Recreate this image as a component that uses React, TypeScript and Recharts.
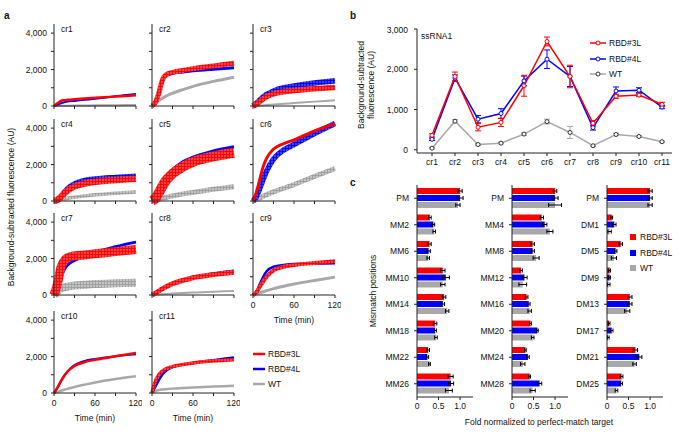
import React from "react";
import { LineChart, Line, XAxis, YAxis, BarChart, Bar, ErrorBar } from "recharts";

const FONT = '"Liberation Sans", Arial, sans-serif';
const RED = "#ff0000";
const BLUE = "#0000ff";
const GRAY = "#a8a8a8";
const INK = "#111";

// panel a: kinetics, minutes
const times = [0, 5, 10, 15, 20, 30, 45, 60, 90, 120];

const cr1 = {
  rbd3: [0, 150, 280, 320, 340, 370, 410, 450, 520, 590],
  rbd4: [0, 60, 150, 210, 240, 280, 340, 400, 530, 660],
  wt: [0, 5, 10, 15, 20, 25, 30, 35, 45, 55],
};
const cr2 = {
  rbd3: [0, 200, 700, 1400, 1700, 1850, 1950, 2050, 2200, 2350],
  rbd4: [0, 180, 650, 1350, 1650, 1800, 1870, 1930, 2020, 2100],
  wt: [0, 150, 300, 420, 530, 700, 900, 1080, 1350, 1580],
};
const cr3 = {
  rbd3: [0, 100, 250, 400, 520, 670, 780, 850, 950, 1020],
  rbd4: [0, 150, 330, 500, 640, 820, 1000, 1100, 1260, 1380],
  wt: [0, 10, 25, 40, 55, 80, 120, 160, 240, 320],
};
const cr4 = {
  rbd3: [0, 60, 220, 420, 580, 800, 960, 1050, 1150, 1220],
  rbd4: [0, 80, 300, 550, 750, 1000, 1180, 1260, 1350, 1420],
  wt: [0, 30, 70, 110, 150, 210, 280, 340, 430, 500],
};
const cr5 = {
  rbd3: [0, 150, 450, 800, 1100, 1500, 1880, 2150, 2450, 2650],
  rbd4: [0, 120, 420, 800, 1150, 1700, 2150, 2400, 2750, 2980],
  wt: [0, 40, 90, 140, 190, 280, 390, 470, 640, 780],
};
const cr6 = {
  rbd3: [0, 500, 1200, 1900, 2350, 2850, 3150, 3350, 3850, 4250],
  rbd4: [0, 250, 700, 1200, 1650, 2300, 2800, 3100, 3700, 4250],
  wt: [0, 80, 170, 260, 350, 500, 700, 900, 1350, 1780],
};
const cr7 = {
  rbd3: [0, 600, 1500, 1880, 2050, 2150, 2200, 2260, 2380, 2500],
  rbd4: [0, 300, 950, 1400, 1650, 1900, 2150, 2350, 2650, 2900],
  wt: [0, 200, 350, 420, 460, 520, 560, 600, 640, 670],
};
const cr8 = {
  rbd3: [0, 100, 220, 340, 440, 620, 800, 950, 1120, 1250],
  rbd4: [0, 110, 240, 370, 480, 660, 840, 990, 1180, 1330],
  wt: [0, 15, 30, 45, 60, 80, 110, 140, 180, 220],
};
const cr9 = {
  rbd3: [0, 150, 450, 750, 1000, 1350, 1550, 1650, 1760, 1850],
  rbd4: [0, 200, 600, 1000, 1300, 1550, 1650, 1700, 1720, 1740],
  wt: [0, 60, 120, 180, 240, 350, 480, 600, 800, 980],
};
const cr10 = {
  rbd3: [0, 300, 650, 950, 1180, 1480, 1700, 1820, 2020, 2200],
  rbd4: [0, 280, 620, 930, 1200, 1530, 1760, 1870, 2020, 2130],
  wt: [0, 60, 120, 180, 230, 330, 460, 580, 770, 920],
};
const cr11 = {
  rbd3: [0, 650, 1000, 1200, 1320, 1450, 1560, 1650, 1760, 1830],
  rbd4: [0, 350, 700, 1000, 1200, 1420, 1560, 1650, 1800, 1950],
  wt: [0, 100, 160, 190, 210, 240, 270, 300, 350, 400],
};

// panel b: endpoint signal
const crRNAs = ["cr1", "cr2", "cr3", "cr4", "cr5", "cr6", "cr7", "cr8", "cr9", "cr10", "cr11"];
const endRbd3 = [360, 1820, 560, 680, 1590, 2690, 1820, 660, 1330, 1360, 1130];
const endRbd3Err = [40, 110, 90, 100, 260, 110, 280, 70, 50, 40, 50];
const endRbd4 = [260, 1780, 760, 900, 1710, 2250, 1820, 550, 1460, 1480, 1060];
const endRbd4Err = [30, 80, 90, 120, 120, 230, 250, 60, 100, 60, 40];
const endWt = [40, 710, 130, 165, 390, 700, 430, 100, 380, 330, 200];
const endWtErr = [20, 40, 20, 20, 30, 60, 150, 20, 30, 20, 20];

// panel c: fold vs perfect match
const mmA = ["PM", "MM2", "MM6", "MM10", "MM14", "MM18", "MM22", "MM26"];
const mmARbd3 = [1.0, 0.3, 0.29, 0.6, 0.63, 0.42, 0.26, 0.78];
const mmARbd4 = [1.0, 0.38, 0.27, 0.67, 0.6, 0.42, 0.24, 0.79];
const mmAWt = [0.95, 0.4, 0.26, 0.6, 0.7, 0.44, 0.29, 0.74];
const mmARbd3Err = [0.05, 0.03, 0.04, 0.05, 0.04, 0.04, 0.03, 0.06];
const mmARbd4Err = [0.07, 0.03, 0.04, 0.08, 0.04, 0.03, 0.03, 0.06];
const mmAWtErr = [0.05, 0.03, 0.03, 0.05, 0.04, 0.03, 0.02, 0.08];

const mmB = ["PM", "MM4", "MM8", "MM12", "MM16", "MM20", "MM24", "MM28"];
const mmBRbd3 = [1.0, 0.69, 0.48, 0.21, 0.34, 0.43, 0.31, 0.41];
const mmBRbd4 = [1.0, 0.76, 0.48, 0.29, 0.39, 0.59, 0.37, 0.64];
const mmBWt = [1.0, 0.88, 0.56, 0.25, 0.41, 0.48, 0.25, 0.48];
const mmBRbd3Err = [0.04, 0.04, 0.04, 0.03, 0.03, 0.02, 0.02, 0.02];
const mmBRbd4Err = [0.07, 0.05, 0.04, 0.06, 0.03, 0.02, 0.03, 0.05];
const mmBWtErr = [0.15, 0.07, 0.07, 0.09, 0.04, 0.03, 0.05, 0.06];

const dm = ["PM", "DM1", "DM5", "DM9", "DM13", "DM17", "DM21", "DM25"];
const dmRbd3 = [1.0, 0.11, 0.32, 0.06, 0.53, 0.05, 0.66, 0.34];
const dmRbd4 = [1.0, 0.17, 0.2, 0.06, 0.53, 0.11, 0.75, 0.33];
const dmWt = [1.0, 0.06, 0.16, 0.04, 0.47, 0.03, 0.64, 0.22];
const dmRbd3Err = [0.05, 0.02, 0.04, 0.02, 0.05, 0.02, 0.05, 0.03];
const dmRbd4Err = [0.05, 0.04, 0.03, 0.02, 0.05, 0.03, 0.06, 0.03];
const dmWtErr = [0.05, 0.04, 0.06, 0.03, 0.06, 0.02, 0.04, 0.03];

// layout of the kinetic grid (plot-area left/bottom in px)
const colX = [54, 152, 253];
const rowBottom = [106, 201, 295, 393];
const PW = 82;
const PH = 82;

const kinetic = [
  { name: "cr1", curves: cr1, col: 0, row: 0, w: [2.5, 2, 2] },
  { name: "cr2", curves: cr2, col: 1, row: 0, w: [5, 3, 3] },
  { name: "cr3", curves: cr3, col: 2, row: 0, w: [5.5, 5.5, 2] },
  { name: "cr4", curves: cr4, col: 0, row: 1, w: [6.5, 3.5, 3.5] },
  { name: "cr5", curves: cr5, col: 1, row: 1, w: [10, 3, 5] },
  { name: "cr6", curves: cr6, col: 2, row: 1, w: [3, 5.5, 5] },
  { name: "cr7", curves: cr7, col: 0, row: 2, w: [9, 3, 8] },
  { name: "cr8", curves: cr8, col: 1, row: 2, w: [5, 2.5, 2] },
  { name: "cr9", curves: cr9, col: 2, row: 2, w: [4, 2.5, 3], xLab: true },
  { name: "cr10", curves: cr10, col: 0, row: 3, w: [2.5, 2, 2.5], xLab: true },
  { name: "cr11", curves: cr11, col: 1, row: 3, w: [3.5, 2.5, 2.5], xLab: true },
];

const tickStyle = { fontSize: 8.5, fill: INK, fontFamily: FONT };
const axisLine = { stroke: "#222", strokeWidth: 1 };

// wide replicate bands get the open-square texture of the original
const band = (w, solid, grid) => (w >= 3.5 ? `url(#${grid})` : solid);

function Kinetic({ p }) {
  const rows = times.map((t, i) => ({
    t,
    rbd3: p.curves.rbd3[i],
    rbd4: p.curves.rbd4[i],
    wt: p.curves.wt[i],
  }));
  const left = colX[p.col];
  const top = rowBottom[p.row] - PH;
  const yLab = p.col === 0;
  return (
    <div style={{ position: "absolute", left: left - 40, top: top - 4 }}>
      <LineChart
        width={40 + PW + 6}
        height={4 + PH + 30}
        data={rows}
        margin={{ top: 4, right: 6, left: 0, bottom: 0 }}
      >
        <XAxis
          dataKey="t"
          type="number"
          domain={[0, 120]}
          ticks={[0, 30, 60, 90, 120]}
          tickFormatter={(v) => (p.xLab && v % 60 === 0 ? String(v) : "")}
          height={30}
          tickSize={3}
          tickMargin={4}
          axisLine={axisLine}
          tickLine={axisLine}
          tick={tickStyle}
          label={
            p.xLab
              ? { value: "Time (min)", position: "insideBottom", offset: 2, style: tickStyle }
              : undefined
          }
        />
        <YAxis
          type="number"
          domain={[0, 4500]}
          ticks={[0, 1000, 2000, 3000, 4000]}
          tickFormatter={(v) => (yLab && v % 2000 === 0 ? v.toLocaleString("en-US") : "")}
          width={40}
          tickSize={3}
          tickMargin={4}
          axisLine={axisLine}
          tickLine={axisLine}
          tick={tickStyle}
        />
        <Line dataKey="wt" type="monotone" stroke={band(p.w[2], GRAY, "gridGray")} strokeWidth={p.w[2]} dot={false} isAnimationActive={false} />
        <Line dataKey="rbd4" type="monotone" stroke={band(p.w[1], BLUE, "gridBlue")} strokeWidth={p.w[1]} dot={false} isAnimationActive={false} />
        <Line dataKey="rbd3" type="monotone" stroke={band(p.w[0], RED, "gridRed")} strokeWidth={p.w[0]} dot={false} isAnimationActive={false} />
      </LineChart>
      <div style={{ position: "absolute", left: 47, top: 4, fontSize: 8.5 }}>{p.name}</div>
    </div>
  );
}

function Endpoint() {
  const rows = crRNAs.map((c, i) => ({
    c,
    rbd3: endRbd3[i],
    rbd3Err: endRbd3Err[i],
    rbd4: endRbd4[i],
    rbd4Err: endRbd4Err[i],
    wt: endWt[i],
    wtErr: endWtErr[i],
  }));
  const dot = (stroke) => ({ r: 2, fill: "#fff", stroke, strokeWidth: 1 });
  return (
    <div style={{ position: "absolute", left: 417 - 45, top: 29 - 4 }}>
      <LineChart width={45 + 255 + 4} height={4 + 124 + 20} data={rows} margin={{ top: 4, right: 4, left: 0, bottom: 0 }}>
        <XAxis
          dataKey="c"
          padding={{ left: 15, right: 10 }}
          height={20}
          tickSize={3}
          tickMargin={3}
          axisLine={axisLine}
          tickLine={axisLine}
          tick={tickStyle}
          interval={0}
        />
        <YAxis
          type="number"
          domain={[-80, 3000]}
          ticks={[0, 1000, 2000, 3000]}
          tickFormatter={(v) => v.toLocaleString("en-US")}
          width={45}
          tickSize={3}
          tickMargin={6}
          axisLine={axisLine}
          tickLine={axisLine}
          tick={tickStyle}
        />
        <Line dataKey="wt" stroke={GRAY} strokeWidth={1.5} dot={dot("#333")} isAnimationActive={false}>
          <ErrorBar dataKey="wtErr" width={3} stroke={GRAY} strokeWidth={1} direction="y" />
        </Line>
        <Line dataKey="rbd4" stroke={BLUE} strokeWidth={1.5} dot={dot(BLUE)} isAnimationActive={false}>
          <ErrorBar dataKey="rbd4Err" width={3} stroke={BLUE} strokeWidth={1} direction="y" />
        </Line>
        <Line dataKey="rbd3" stroke={RED} strokeWidth={1.5} dot={dot(RED)} isAnimationActive={false}>
          <ErrorBar dataKey="rbd3Err" width={3} stroke={RED} strokeWidth={1} direction="y" />
        </Line>
      </LineChart>
    </div>
  );
}

function Fold({ left, cats, r3, r4, wt, r3e, r4e, wte }) {
  const rows = cats.map((c, i) => ({
    c,
    rbd3: r3[i],
    rbd4: r4[i],
    wt: wt[i],
    rbd3Err: r3e[i],
    rbd4Err: r4e[i],
    wtErr: wte[i],
  }));
  return (
    <div style={{ position: "absolute", left: left - 45, top: 185 - 1 }}>
      <BarChart
        width={45 + 56 + 4}
        height={1 + 212 + 20}
        data={rows}
        layout="vertical"
        barSize={6}
        barGap={1}
        margin={{ top: 1, right: 4, left: 0, bottom: 0 }}
      >
        <XAxis
          type="number"
          domain={[0, 1.3]}
          ticks={[0, 0.5, 1]}
          tickFormatter={(v) => (v === 0 ? "0" : v.toFixed(1))}
          height={20}
          tickSize={3}
          tickMargin={3}
          axisLine={axisLine}
          tickLine={axisLine}
          tick={tickStyle}
          allowDataOverflow
        />
        <YAxis
          type="category"
          dataKey="c"
          width={45}
          tickSize={3}
          tickMargin={5}
          axisLine={axisLine}
          tickLine={axisLine}
          tick={tickStyle}
          interval={0}
        />
        <Bar dataKey="rbd3" fill={RED} isAnimationActive={false}>
          <ErrorBar dataKey="rbd3Err" width={2} stroke="#000" strokeWidth={1} direction="x" />
        </Bar>
        <Bar dataKey="rbd4" fill={BLUE} isAnimationActive={false}>
          <ErrorBar dataKey="rbd4Err" width={2} stroke="#000" strokeWidth={1} direction="x" />
        </Bar>
        <Bar dataKey="wt" fill={GRAY} isAnimationActive={false}>
          <ErrorBar dataKey="wtErr" width={2} stroke="#000" strokeWidth={1} direction="x" />
        </Bar>
      </BarChart>
    </div>
  );
}

function At({ x, y, children, style = {} }) {
  return (
    <div style={{ position: "absolute", left: x, top: y, transform: "translate(0,-50%)", whiteSpace: "nowrap", ...style }}>
      {children}
    </div>
  );
}

function VText({ x, y, children, style = {} }) {
  return (
    <div
      style={{
        position: "absolute",
        left: x,
        top: y,
        transform: "translate(-50%,-50%) rotate(-90deg)",
        whiteSpace: "nowrap",
        textAlign: "center",
        ...style,
      }}
    >
      {children}
    </div>
  );
}

function LegendRow({ x, y, color, label, mark }) {
  const lw = mark === "line" ? 12 : 16;
  return (
    <div style={{ position: "absolute", left: x, top: y - 6, height: 12, display: "flex", alignItems: "center", whiteSpace: "nowrap" }}>
      <svg width={mark === "square" ? 8 : lw} height={12} style={{ marginRight: 3 }}>
        {mark === "square" ? (
          <rect x={1} y={3} width={6} height={6} fill={color} />
        ) : (
          <line x1={0} x2={lw} y1={6} y2={6} stroke={color} strokeWidth={mark === "line" ? 2.5 : 1.5} />
        )}
        {mark === "dot" && <circle cx={8} cy={6} r={2} fill="#fff" stroke={color === GRAY ? "#333" : color} />}
      </svg>
      <span>{label}</span>
    </div>
  );
}

function Patterns() {
  const cell = (id, bg, line) => (
    <pattern id={id} width={3} height={3} patternUnits="userSpaceOnUse">
      <rect width={3} height={3} fill={bg} />
      <path d="M0 0.5H3M0.5 0V3" stroke={line} strokeWidth={0.8} />
    </pattern>
  );
  return (
    <svg width={0} height={0} style={{ position: "absolute" }}>
      <defs>
        {cell("gridRed", "#ff4040", "#f00000")}
        {cell("gridBlue", "#3c3cff", "#0000e0")}
        {cell("gridGray", "#c4c4c4", "#9a9a9a")}
      </defs>
    </svg>
  );
}

export default function App() {
  return (
    <div
      style={{
        position: "absolute",
        left: 0,
        top: 0,
        width: 686,
        height: 435,
        background: "#fff",
        fontFamily: FONT,
        fontSize: 8.5,
        color: INK,
        overflow: "hidden",
      }}
    >
      <Patterns />
      {kinetic.map((p) => (
        <Kinetic key={p.name} p={p} />
      ))}
      <Endpoint />
      <Fold left={417} cats={mmA} r3={mmARbd3} r4={mmARbd4} wt={mmAWt} r3e={mmARbd3Err} r4e={mmARbd4Err} wte={mmAWtErr} />
      <Fold left={512} cats={mmB} r3={mmBRbd3} r4={mmBRbd4} wt={mmBWt} r3e={mmBRbd3Err} r4e={mmBRbd4Err} wte={mmBWtErr} />
      <Fold left={607} cats={dm} r3={dmRbd3} r4={dmRbd4} wt={dmWt} r3e={dmRbd3Err} r4e={dmRbd4Err} wte={dmWtErr} />

      <At x={4} y={15} style={{ fontWeight: "bold", fontSize: 10 }}>a</At>
      <At x={350} y={15} style={{ fontWeight: "bold", fontSize: 10 }}>b</At>
      <At x={350} y={182} style={{ fontWeight: "bold", fontSize: 10 }}>c</At>

      <VText x={11} y={207}>Background-subtracted fluorescence (AU)</VText>
      <VText x={366} y={85} style={{ lineHeight: "10px" }}>
        Background-subtracted
        <br />
        fluorescence (AU)
      </VText>
      <VText x={373} y={291}>Mismatch positions</VText>
      <div style={{ position: "absolute", left: 539, top: 422, transform: "translate(-50%,-50%)", whiteSpace: "nowrap" }}>
        Fold normalized to perfect-match target
      </div>
      <At x={421} y={36}>ssRNA1</At>

      <LegendRow x={253} y={354} color={RED} label="RBD#3L" mark="line" />
      <LegendRow x={253} y={369} color={BLUE} label="RBD#4L" mark="line" />
      <LegendRow x={253} y={384} color={GRAY} label="WT" mark="line" />

      <LegendRow x={590} y={43} color={RED} label="RBD#3L" mark="dot" />
      <LegendRow x={590} y={59} color={BLUE} label="RBD#4L" mark="dot" />
      <LegendRow x={590} y={74} color={GRAY} label="WT" mark="dot" />

      <LegendRow x={629} y={237} color={RED} label="RBD#3L" mark="square" />
      <LegendRow x={629} y={253} color={BLUE} label="RBD#4L" mark="square" />
      <LegendRow x={629} y={268} color={GRAY} label="WT" mark="square" />
    </div>
  );
}
